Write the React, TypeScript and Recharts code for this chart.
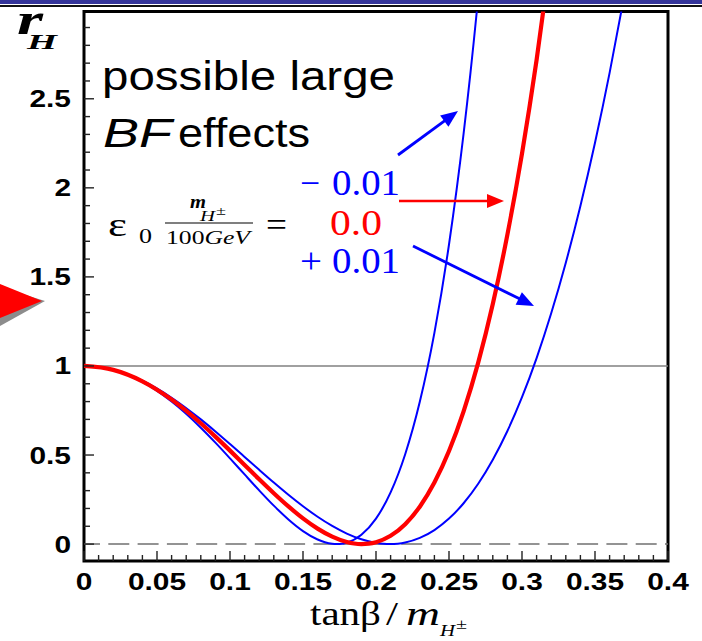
import React from 'react';
import { LineChart, Line, XAxis, YAxis, ReferenceLine, ReferenceArea } from 'recharts';

// ---------- axis ticks ----------
const xMajor = [0, 0.05, 0.1, 0.15, 0.2, 0.25, 0.3, 0.35, 0.4];
const xLabels = ['0', '0.05', '0.1', '0.15', '0.2', '0.25', '0.3', '0.35', '0.4'];
const xMinor = [
  0.01, 0.02, 0.03, 0.04, 0.06, 0.07, 0.08, 0.09, 0.11, 0.12, 0.13, 0.14,
  0.16, 0.17, 0.18, 0.19, 0.21, 0.22, 0.23, 0.24, 0.26, 0.27, 0.28, 0.29,
  0.31, 0.32, 0.33, 0.34, 0.36, 0.37, 0.38, 0.39,
];
const yMajor = [0, 0.5, 1, 1.5, 2, 2.5];
const yLabels = ['0', '0.5', '1', '1.5', '2', '2.5'];
const yMinor = [
  0.1, 0.2, 0.3, 0.4, 0.6, 0.7, 0.8, 0.9, 1.1, 1.2, 1.3, 1.4, 1.6, 1.7, 1.8, 1.9,
  2.1, 2.2, 2.3, 2.4, 2.6, 2.7, 2.8, 2.9,
];
const xDomain = [0, 0.4];
const yDomain = [-0.095, 2.99];

// ---------- series: eps0 mH/100GeV = -0.01 (blue) ----------
const bluMinusX = [
  0, 0.02, 0.04, 0.06, 0.08, 0.09, 0.1, 0.11, 0.12, 0.13, 0.14, 0.15, 0.16, 0.165,
  0.17, 0.173, 0.177, 0.18, 0.19, 0.2, 0.21, 0.22, 0.23, 0.24, 0.25, 0.26, 0.27, 0.275,
];
const bluMinusR = [
  1, 0.9776, 0.9102, 0.8, 0.6533, 0.5695, 0.4813, 0.391, 0.3014, 0.2158, 0.1383, 0.0731, 0.0256, 0.0103,
  0.0016, 0.0, 0.0024, 0.0079, 0.0522, 0.143, 0.2901, 0.5045, 0.7985, 1.1858, 1.6819, 2.3039, 3.0712, 3.5158,
];

// ---------- series: 0.0 (red) ----------
const redX = [
  0, 0.02, 0.04, 0.06, 0.08, 0.09, 0.1, 0.11, 0.12, 0.13, 0.14, 0.15, 0.16, 0.17, 0.18,
  0.185, 0.19, 0.195, 0.2, 0.21, 0.22, 0.23, 0.24, 0.25, 0.26, 0.27, 0.28, 0.29, 0.3, 0.31, 0.32,
];
const redR = [
  1, 0.9781, 0.9138, 0.8114, 0.6783, 0.6033, 0.5247, 0.4442, 0.3637, 0.2854, 0.2114, 0.1443, 0.0867, 0.0414, 0.0114,
  0.0032, 0.0, 0.0023, 0.0105, 0.0464, 0.1116, 0.2098, 0.3453, 0.5222, 0.7452, 1.0187, 1.3477, 1.7371, 2.1923, 2.7184, 3.3211,
];

// ---------- series: +0.01 (blue) ----------
const bluPlusX = [
  0, 0.02, 0.04, 0.06, 0.08, 0.09, 0.1, 0.11, 0.12, 0.13, 0.14, 0.15, 0.16, 0.17, 0.18, 0.19,
  0.2, 0.205, 0.21, 0.215, 0.22, 0.23, 0.24, 0.25, 0.26, 0.27, 0.28, 0.29, 0.3, 0.31, 0.32,
  0.33, 0.34, 0.35, 0.36, 0.37, 0.375,
];
const bluPlusR = [
  1, 0.9785, 0.917, 0.8215, 0.7, 0.6323, 0.5616, 0.4894, 0.4168, 0.3455, 0.2768, 0.2123, 0.1534, 0.1019, 0.0591, 0.0269,
  0.0066, 0.0015, 0.0, 0.0024, 0.0087, 0.0344, 0.0786, 0.143, 0.2292, 0.3389, 0.4736, 0.6351, 0.8248, 1.0444, 1.2955,
  1.5796, 1.8983, 2.2531, 2.6456, 3.0774, 3.3084,
];

const toRows = (xs: number[], rs: number[]) => xs.map((x, i) => ({ x, r: rs[i] }));
const bluMinusData = toRows(bluMinusX, bluMinusR);
const redData = toRows(redX, redR);
const bluPlusData = toRows(bluPlusX, bluPlusR);

const xTicksAll = [...xMajor, ...xMinor].sort((a, b) => a - b);
const yTicksAll = [...yMajor, ...yMinor].sort((a, b) => a - b);

const SANS = '"Liberation Sans", Arial, Helvetica, sans-serif';
const SERIF = '"Liberation Serif", "Times New Roman", Times, serif';
const TICK = '#222';

function BottomTick(props: any) {
  const { x, y, payload } = props;
  const i = xMajor.indexOf(payload.value);
  const major = i >= 0;
  return (
    <g>
      <line x1={x} x2={x} y1={y} y2={y - (major ? 10 : 6)} stroke={TICK} strokeWidth={1.4} />
      {major && (
        <text
          transform={`translate(${x},${y + 29}) scale(1.3,1)`}
          textAnchor="middle"
          fontFamily={SANS}
          fontWeight="bold"
          fontSize={23}
          fill="#000"
        >
          {xLabels[i]}
        </text>
      )}
    </g>
  );
}

function TopTick(props: any) {
  const { x, y, payload } = props;
  const major = xMajor.indexOf(payload.value) >= 0;
  return <line x1={x} x2={x} y1={y} y2={y + (major ? 10 : 6)} stroke={TICK} strokeWidth={1.4} />;
}

function LeftTick(props: any) {
  const { x, y, payload } = props;
  const i = yMajor.indexOf(payload.value);
  const major = i >= 0;
  return (
    <g>
      <line x1={x} x2={x + (major ? 10 : 6)} y1={y} y2={y} stroke={TICK} strokeWidth={1.4} />
      {major && (
        <text
          transform={`translate(${x - 13},${y + 8.5}) scale(1.3,1)`}
          textAnchor="end"
          fontFamily={SANS}
          fontWeight="bold"
          fontSize={23}
          fill="#000"
        >
          {yLabels[i]}
        </text>
      )}
    </g>
  );
}

function RightTick(props: any) {
  const { x, y, payload } = props;
  const major = yMajor.indexOf(payload.value) >= 0;
  return <line x1={x} x2={x - (major ? 10 : 6)} y1={y} y2={y} stroke={TICK} strokeWidth={1.4} />;
}

function Arrow({ x1, y1, x2, y2, color, w }: any) {
  const dx = x2 - x1;
  const dy = y2 - y1;
  const L = Math.hypot(dx, dy);
  const ux = dx / L;
  const uy = dy / L;
  const hl = 17;
  const hw = 7;
  const bx = x2 - ux * hl;
  const by = y2 - uy * hl;
  const pts = `${x2},${y2} ${bx - uy * hw},${by + ux * hw} ${bx + uy * hw},${by - ux * hw}`;
  return (
    <g>
      <line x1={x1} y1={y1} x2={bx + ux * 2} y2={by + uy * 2} stroke={color} strokeWidth={w} />
      <polygon points={pts} fill={color} />
    </g>
  );
}

export default function App() {
  return (
    <div
      style={{
        position: 'absolute',
        left: 0,
        top: 0,
        width: 702,
        height: 641,
        background: '#fff',
        overflow: 'hidden',
      }}
    >
      <div style={{ position: 'absolute', left: 0, top: 0, width: 702, height: 3.5, background: '#333399' }} />
      <div style={{ position: 'absolute', left: 0, top: 4.7, width: 702, height: 2, background: '#111' }} />
      <div style={{ position: 'absolute', left: 0, top: 0 }}>
        <LineChart width={702} height={641} margin={{ top: 11.5, right: 34, left: 0, bottom: 0 }}>
          <XAxis
            xAxisId="b"
            type="number"
            dataKey="x"
            domain={xDomain}
            allowDataOverflow
            ticks={xTicksAll}
            interval={0}
            height={80}
            tickLine={false}
            axisLine={false}
            tickSize={0}
            tickMargin={0}
            tick={BottomTick}
          />
          <XAxis
            xAxisId="t"
            orientation="top"
            type="number"
            dataKey="x"
            domain={xDomain}
            allowDataOverflow
            ticks={xTicksAll}
            interval={0}
            height={0}
            tickLine={false}
            axisLine={false}
            tickSize={0}
            tickMargin={0}
            tick={TopTick}
          />
          <YAxis
            yAxisId="l"
            type="number"
            domain={yDomain}
            allowDataOverflow
            ticks={yTicksAll}
            interval={0}
            width={84}
            tickLine={false}
            axisLine={false}
            tickSize={0}
            tickMargin={0}
            tick={LeftTick}
          />
          <YAxis
            yAxisId="r"
            orientation="right"
            type="number"
            domain={yDomain}
            allowDataOverflow
            ticks={yTicksAll}
            interval={0}
            width={0}
            tickLine={false}
            axisLine={false}
            tickSize={0}
            tickMargin={0}
            tick={RightTick}
          />
          <ReferenceLine xAxisId="b" yAxisId="l" y={1} stroke="#808080" strokeWidth={1.6} />
          <ReferenceLine
            xAxisId="b"
            yAxisId="l"
            y={0}
            stroke="#707070"
            strokeWidth={1.5}
            strokeDasharray="21 8.3"
            strokeDashoffset={5}
          />
          <Line
            xAxisId="b"
            yAxisId="l"
            data={bluMinusData}
            dataKey="r"
            type="monotone"
            stroke="#0000ff"
            strokeWidth={2}
            dot={false}
            isAnimationActive={false}
          />
          <Line
            xAxisId="b"
            yAxisId="l"
            data={bluPlusData}
            dataKey="r"
            type="monotone"
            stroke="#0000ff"
            strokeWidth={2}
            dot={false}
            isAnimationActive={false}
          />
          <Line
            xAxisId="b"
            yAxisId="l"
            data={redData}
            dataKey="r"
            type="monotone"
            stroke="#ff0000"
            strokeWidth={4.2}
            dot={false}
            isAnimationActive={false}
          />
          <ReferenceArea
            xAxisId="b"
            yAxisId="l"
            x1={xDomain[0]}
            x2={xDomain[1]}
            y1={yDomain[0]}
            y2={yDomain[1]}
            fill="none"
            fillOpacity={0}
            stroke="#000"
            strokeWidth={3}
            ifOverflow="visible"
          />
        </LineChart>
      </div>
      <svg
        width={702}
        height={641}
        style={{ position: 'absolute', left: 0, top: 0, pointerEvents: 'none' }}
      >
        {/* red pointer triangle with shadow */}
        <polygon points="0,287 45,301 0,326" fill="#8c8c8c" />
        <polygon points="0,284 42,301 0,318" fill="#ff0000" />

        {/* y-axis title r_H */}
        <text x={17} y={34} fontFamily={SERIF} fontWeight="bold" fontStyle="italic" fontSize={44} textLength={26} lengthAdjust="spacingAndGlyphs" fill="#000">r</text>
        <text x={27} y={49} fontFamily={SERIF} fontWeight="bold" fontStyle="italic" fontSize={22} textLength={30} lengthAdjust="spacingAndGlyphs" fill="#000">H</text>

        {/* annotation */}
        <text x={102} y={90} fontFamily={SANS} fontSize={40} textLength={293} lengthAdjust="spacingAndGlyphs" fill="#000">possible large</text>
        <text x={103} y={147} fontFamily={SANS} fontStyle="italic" fontSize={40} textLength={69} lengthAdjust="spacingAndGlyphs" fill="#000">BF</text>
        <text x={178} y={147} fontFamily={SANS} fontSize={40} textLength={132} lengthAdjust="spacingAndGlyphs" fill="#000">effects</text>

        {/* formula eps0 mH/100GeV = */}
        <text x={108} y={236} fontFamily={SERIF} fontSize={34} textLength={19} lengthAdjust="spacingAndGlyphs" fill="#000">ε</text>
        <text x={139} y={243} fontFamily={SERIF} fontSize={21} textLength={13} lengthAdjust="spacingAndGlyphs" fill="#000">0</text>
        <text x={190} y={208} fontFamily={SERIF} fontWeight="bold" fontStyle="italic" fontSize={18} textLength={16} lengthAdjust="spacingAndGlyphs" fill="#000">m</text>
        <text x={200} y={221} fontFamily={SERIF} fontStyle="italic" fontSize={14} textLength={15} lengthAdjust="spacingAndGlyphs" fill="#000">H</text>
        <text x={216} y={215} fontFamily={SERIF} fontSize={12} textLength={10} lengthAdjust="spacingAndGlyphs" fill="#000">±</text>
        <line x1={165} x2={253} y1={223} y2={223} stroke="#000" strokeWidth={1.2} />
        <text x={166} y={244} fontFamily={SERIF} fontSize={18} textLength={84} lengthAdjust="spacingAndGlyphs" fill="#000">
          100<tspan fontStyle="italic">GeV</tspan>
        </text>
        <text x={266} y={236} fontFamily={SERIF} fontSize={34} textLength={21} lengthAdjust="spacingAndGlyphs" fill="#000">=</text>

        {/* parameter values */}
        <text x={300} y={195} fontFamily={SERIF} fontSize={36} textLength={20} lengthAdjust="spacingAndGlyphs" fill="#0000ff">−</text>
        <text x={332} y={195} fontFamily={SERIF} fontSize={35} textLength={68} lengthAdjust="spacingAndGlyphs" fill="#0000ff">0.01</text>
        <text x={330} y={235} fontFamily={SERIF} fontSize={35} textLength={52} lengthAdjust="spacingAndGlyphs" fill="#ff0000">0.0</text>
        <text x={300} y={273} fontFamily={SERIF} fontSize={36} textLength={22} lengthAdjust="spacingAndGlyphs" fill="#0000ff">+</text>
        <text x={332} y={273} fontFamily={SERIF} fontSize={35} textLength={68} lengthAdjust="spacingAndGlyphs" fill="#0000ff">0.01</text>

        {/* arrows */}
        <Arrow x1={398} y1={155} x2={458} y2={111} color="#0000ff" w={2.8} />
        <Arrow x1={399} y1={201} x2={504} y2={201} color="#ff0000" w={2.4} />
        <Arrow x1={413} y1={246} x2={534} y2={306} color="#0000ff" w={2.8} />

        {/* x-axis title */}
        <text x={310} y={625} fontFamily={SERIF} fontSize={34} textLength={71} lengthAdjust="spacingAndGlyphs" fill="#000">tanβ</text>
        <text x={386} y={625} fontFamily={SERIF} fontSize={34} textLength={12} lengthAdjust="spacingAndGlyphs" fill="#000">/</text>
        <text x={406} y={625} fontFamily={SERIF} fontStyle="italic" fontSize={34} textLength={34} lengthAdjust="spacingAndGlyphs" fill="#000">m</text>
        <text x={440} y={636} fontFamily={SERIF} fontStyle="italic" fontSize={17} textLength={15} lengthAdjust="spacingAndGlyphs" fill="#000">H</text>
        <text x={456} y={629} fontFamily={SERIF} fontSize={14} textLength={11} lengthAdjust="spacingAndGlyphs" fill="#000">±</text>
      </svg>
    </div>
  );
}
